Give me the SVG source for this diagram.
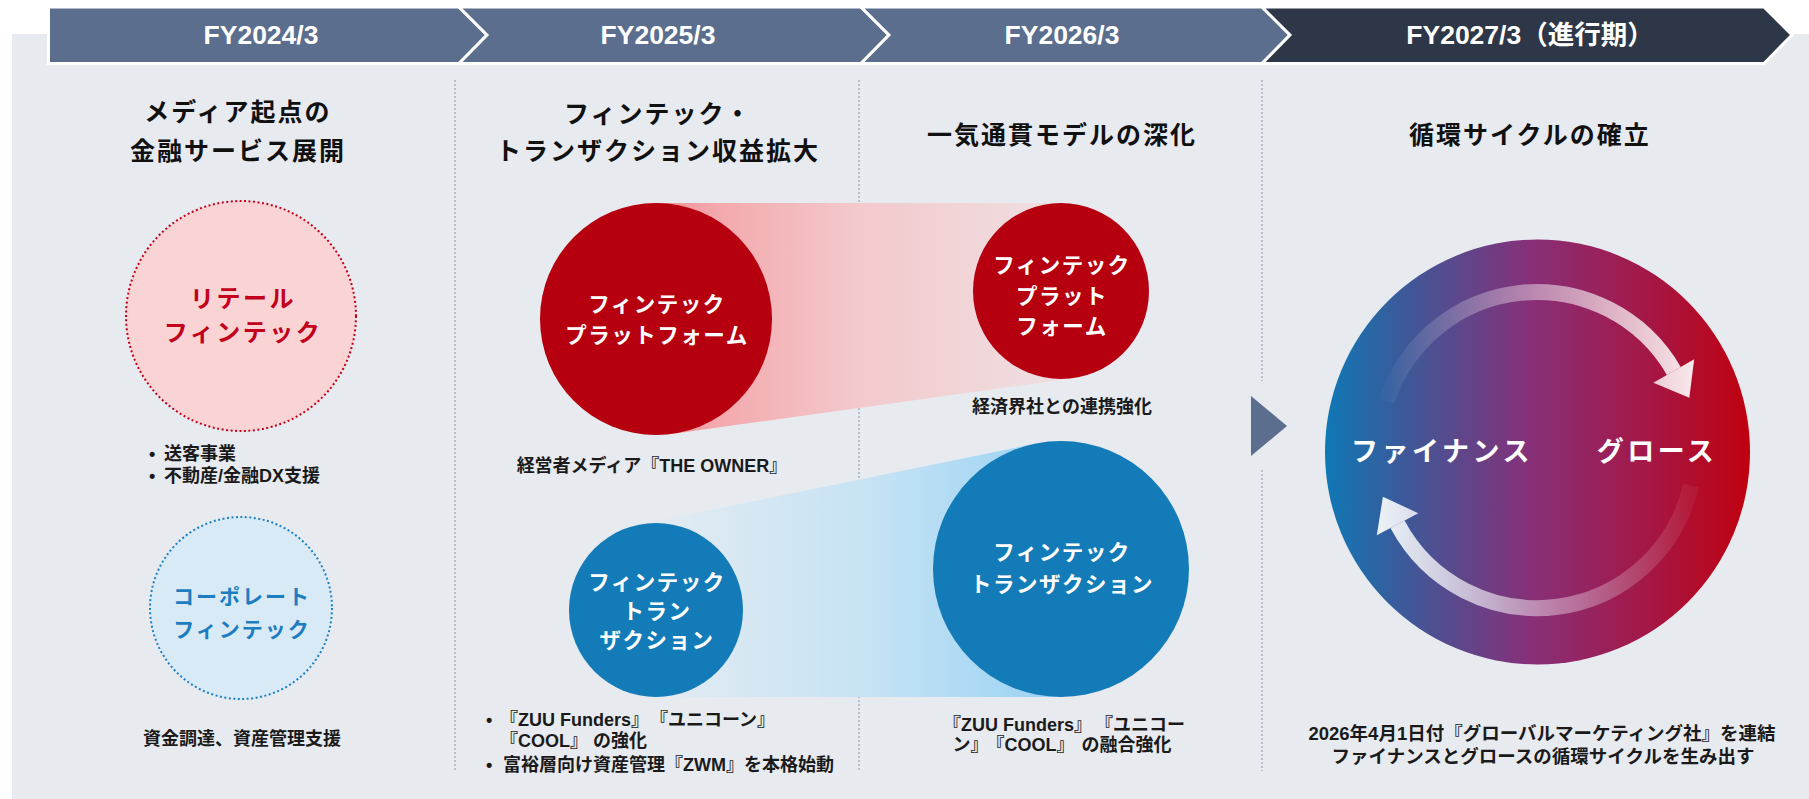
<svg xmlns="http://www.w3.org/2000/svg" width="1809" height="799" viewBox="0 0 1809 799">
<defs>
<style>
text { font-family: "Liberation Sans", "Noto Sans CJK JP", sans-serif; font-weight: 700; dominant-baseline: central; text-anchor: middle; }
.hd { fill: #ffffff; font-size: 26.5px; }
.ttl { fill: #111111; font-size: 25px; letter-spacing: 2px; }
.body { fill: #1a1a1a; font-size: 18px; }
.ct { fill: #ffffff; font-size: 21.5px; letter-spacing: 1.5px; }
.big { fill: #ffffff; font-size: 27px; letter-spacing: 3.5px; }
.l { text-anchor: start; }
.sep { stroke: #a9b4c8; stroke-width: 1.6; stroke-dasharray: 2 2; fill: none; }
.seg { fill: #5b6e8e; stroke: #ffffff; stroke-width: 3; }
.segd { fill: #2e3748; stroke: #ffffff; stroke-width: 3; }
.red { fill: #b60010; }
.blue { fill: #137bb7; }
</style>
<linearGradient id="gRedBand" gradientUnits="userSpaceOnUse" x1="656" y1="0" x2="1061" y2="0">
<stop offset="0" stop-color="#ef8f95"/>
<stop offset="0.15" stop-color="#f3a9ad"/>
<stop offset="0.5" stop-color="#f3c9cc"/>
<stop offset="1" stop-color="#efdfe2"/>
</linearGradient>
<linearGradient id="gBlueBand" gradientUnits="userSpaceOnUse" x1="656" y1="0" x2="1061" y2="0">
<stop offset="0" stop-color="#e3ebf2"/>
<stop offset="0.55" stop-color="#c4e2f4"/>
<stop offset="1" stop-color="#98d2f3"/>
</linearGradient>
<linearGradient id="gCycle" gradientUnits="userSpaceOnUse" x1="1325" y1="0" x2="1750" y2="0">
<stop offset="0" stop-color="#0f78b6"/>
<stop offset="0.18" stop-color="#3b5a9a"/>
<stop offset="0.49" stop-color="#882f77"/>
<stop offset="0.73" stop-color="#a11a4c"/>
<stop offset="1" stop-color="#c0000f"/>
</linearGradient>
<linearGradient id="gArcTop" gradientUnits="userSpaceOnUse" x1="1387" y1="0" x2="1697" y2="0">
<stop offset="0" stop-color="#ffffff" stop-opacity="0.03"/>
<stop offset="0.5" stop-color="#ffffff" stop-opacity="0.45"/>
<stop offset="1" stop-color="#ffffff" stop-opacity="0.92"/>
</linearGradient>
<linearGradient id="gArcBot" gradientUnits="userSpaceOnUse" x1="1377" y1="0" x2="1691" y2="0">
<stop offset="0" stop-color="#ffffff" stop-opacity="0.92"/>
<stop offset="0.5" stop-color="#ffffff" stop-opacity="0.45"/>
<stop offset="1" stop-color="#ffffff" stop-opacity="0.05"/>
</linearGradient>
</defs>

<rect x="12" y="34" width="1797" height="765" fill="#e7eaef"/>

<g id="header">
<path class="seg" d="M48.5,7 L459,7 L487,35 L459,63.5 L48.5,63.5 Z"/>
<path class="seg" d="M459,7 L861,7 L889,35 L861,63.5 L459,63.5 L487,35 Z"/>
<path class="seg" d="M861,7 L1262,7 L1290,35 L1262,63.5 L861,63.5 L889,35 Z"/>
<path class="segd" d="M1262,7 L1764,7 L1792,35 L1764,63.5 L1262,63.5 L1290,35 Z"/>
<text class="hd" x="261" y="35">FY2024/3</text>
<text class="hd" x="658" y="35">FY2025/3</text>
<text class="hd" x="1062" y="35">FY2026/3</text>
<text class="hd" x="1530" y="35">FY2027/3（進行期）</text>
</g>

<g id="separators">
<line class="sep" x1="455" y1="80" x2="455" y2="771"/>
<line class="sep" x1="859" y1="80" x2="859" y2="771"/>
<line class="sep" x1="1262" y1="80" x2="1262" y2="381"/>
<line class="sep" x1="1262" y1="470" x2="1262" y2="771"/>
</g>

<g id="col1">
<text class="ttl" x="238" y="112">メディア起点の</text>
<text class="ttl" x="238" y="151">金融サービス展開</text>
</g>
<g id="retail-fintech">
<circle cx="241" cy="316" r="115" fill="#fad4d5" stroke="#c3001b" stroke-width="2" stroke-dasharray="2 2.5"/>
<text x="243" y="298" style="fill:#c3001b;font-size:24px;letter-spacing:2.5px">リテール</text>
<text x="243" y="332" style="fill:#c3001b;font-size:24px;letter-spacing:2.5px">フィンテック</text>
<text class="body l" x="149" y="454">•</text>
<text class="body l" x="164" y="454">送客事業</text>
<text class="body l" x="149" y="476">•</text>
<text class="body l" x="164" y="476">不動産/金融DX支援</text>
</g>
<g id="corporate-fintech">
<circle cx="241" cy="608" r="91" fill="#d8eaf5" stroke="#1d80c3" stroke-width="2" stroke-dasharray="2 2.5"/>
<text x="242" y="596" style="fill:#1c7dc0;font-size:21px;letter-spacing:2px">コーポレート</text>
<text x="242" y="629" style="fill:#1c7dc0;font-size:21px;letter-spacing:2px">フィンテック</text>
<text class="body" x="242" y="739">資金調達、資産管理支援</text>
</g>

<g id="connectors">
<polygon points="656,203 1061,203 1073.1,378.2 672,433.9" fill="url(#gRedBand)"/>
<polygon points="638.6,524.8 1035.3,443.6 1061,697 656,697" fill="url(#gBlueBand)"/>
</g>

<g id="col2">
<text class="ttl" x="658" y="114">フィンテック・</text>
<text class="ttl" x="658" y="151">トランザクション収益拡大</text>
</g>
<g id="platform-2025">
<circle class="red" cx="656" cy="319" r="116"/>
<text class="ct" x="657" y="305">フィンテック</text>
<text class="ct" x="657" y="336">プラットフォーム</text>
<text class="body" x="652" y="466">経営者メディア『THE OWNER』</text>
</g>
<g id="transaction-2025">
<circle class="blue" cx="656" cy="610" r="87"/>
<text class="ct" x="657" y="583">フィンテック</text>
<text class="ct" x="657" y="612">トラン</text>
<text class="ct" x="657" y="641">ザクション</text>
<text class="body l" x="486" y="720">•</text>
<text class="body l" x="500" y="720">『ZUU Funders』<tspan dx="10">『ユニコーン』</tspan></text>
<text class="body l" x="500" y="741">『COOL』<tspan dx="5">の強化</tspan></text>
<text class="body l" x="486" y="765">•</text>
<text class="body l" x="503" y="765">富裕層向け資産管理『ZWM』を本格始動</text>
</g>

<g id="col3">
<text class="ttl" x="1062" y="135">一気通貫モデルの深化</text>
</g>
<g id="platform-2026">
<circle class="red" cx="1061" cy="291" r="88"/>
<text class="ct" x="1062" y="266">フィンテック</text>
<text class="ct" x="1062" y="297">プラット</text>
<text class="ct" x="1062" y="327">フォーム</text>
<text class="body" x="1062" y="407">経済界社との連携強化</text>
</g>
<g id="transaction-2026">
<circle class="blue" cx="1061" cy="569" r="128"/>
<text class="ct" x="1062" y="553">フィンテック</text>
<text class="ct" x="1062" y="585">トランザクション</text>
<text class="body" x="1064" y="725">『ZUU Funders』<tspan dx="12">『ユニコー</tspan></text>
<text class="body" x="1062" y="745">ン』<tspan dx="7">『COOL』</tspan><tspan dx="7">の融合強化</tspan></text>
</g>

<g id="arrow-to-2027">
<polygon points="1251,396 1251,456 1287,426" fill="#5b6e8e"/>
</g>

<g id="col4">
<text class="ttl" x="1530" y="135">循環サイクルの確立</text>
</g>
<g id="cycle">
<circle cx="1537.5" cy="452" r="212.5" fill="url(#gCycle)"/>
<path d="M1386.7,401.2 A158,158 0 0,1 1673.8,371" fill="none" stroke="url(#gArcTop)" stroke-width="16"/>
<polygon points="1694.2,359.2 1689.3,397.8 1653.4,382.8" fill="url(#gArcTop)"/>
<path d="M1691,485.5 A158,158 0 0,1 1397.5,524.2" fill="none" stroke="url(#gArcBot)" stroke-width="16"/>
<polygon points="1376.8,535.2 1382.9,496.8 1418.3,513.2" fill="url(#gArcBot)"/>
<text class="big" x="1442" y="452">ファイナンス</text>
<text class="big" x="1657" y="452">グロース</text>
<text class="body" x="1542" y="733" style="font-size:18.5px">2026年4月1日付『グローバルマーケティング社』を連結</text>
<text class="body" x="1543" y="756" style="font-size:18.5px">ファイナンスとグロースの循環サイクルを生み出す</text>
</g>
</svg>
